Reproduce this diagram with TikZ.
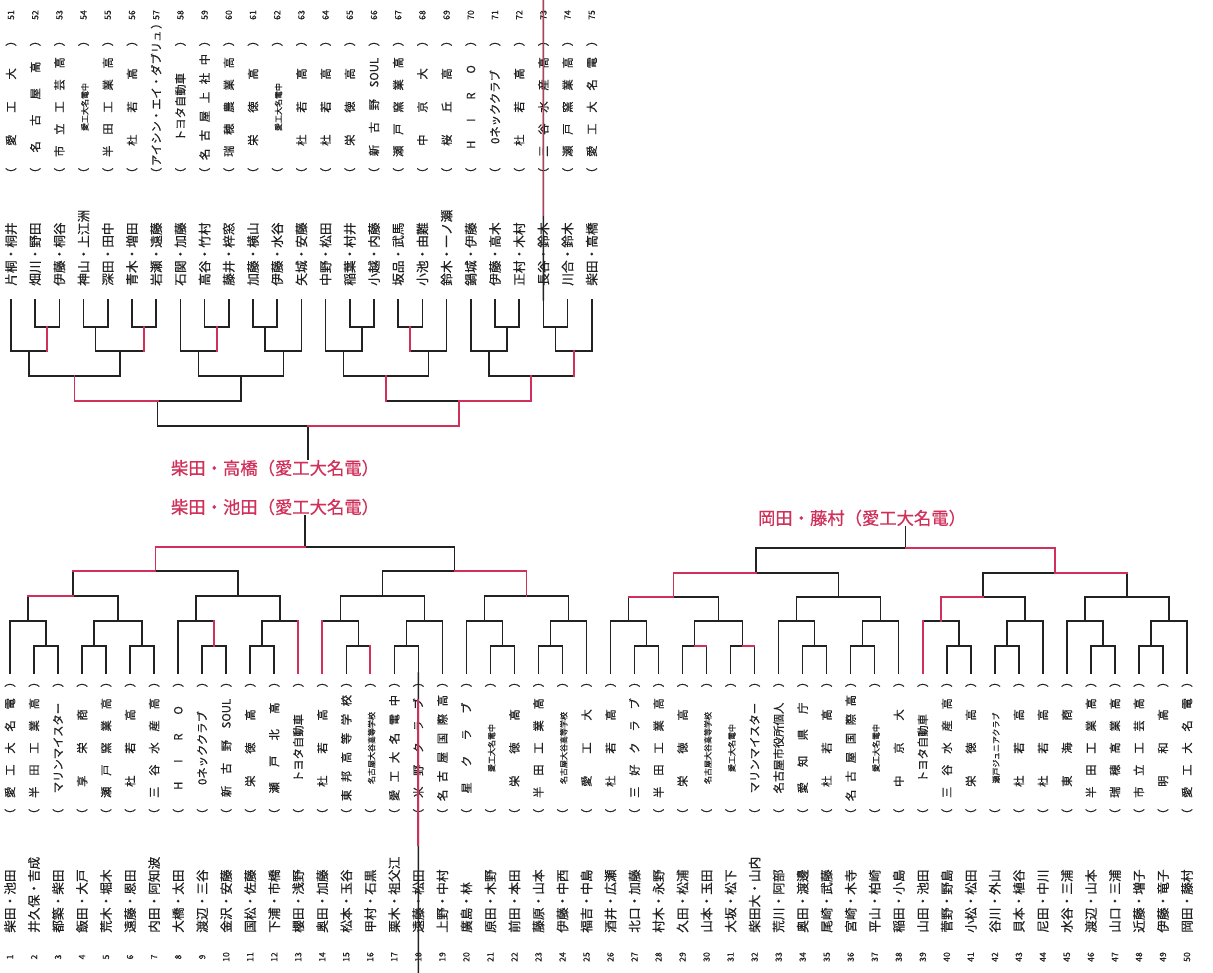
\documentclass[tikz,border=0pt]{standalone}
\usepackage{fontspec}
\setmainfont{Noto Sans CJK JP}[FakeBold=0.5]
\usetikzlibrary{calc}
\definecolor{ink}{HTML}{222222}
\definecolor{rd}{HTML}{D0305A}
\tikzset{
  ln/.style={draw=ink,line width=1.1pt,line cap=rect},
  rl/.style={draw=rd,line width=1.3pt,line cap=rect},
  num/.style={rotate=90,inner sep=0pt,text=ink,font=\fontsize{6.5}{7}\selectfont},
  nm/.style={rotate=90,anchor=west,inner sep=0pt,text=ink,font=\fontsize{9.5}{10}\selectfont},
  sc/.style={rotate=90,inner sep=0pt,text=ink,font=\fontsize{8.5}{9}\selectfont},
  lab/.style={inner sep=0pt,text=rd,font=\fontsize{13}{14}\selectfont},
}
\newcommand\sch[1]{\makebox[108pt][s]{（ #1 ）}}
\newcommand\sm[1]{{\fontsize{6}{7}\selectfont #1}}
\newcommand\mt[4]{%
  \path let \p1=(#2), \p2=(#3), \p3=(0,#4) in coordinate (#1) at ({(\x1+\x2)/2},\y3);
  \draw[ln] (#2) |- (#1) -| (#3);
}
\newcommand\rv[2]{\draw[rl] (#1) -- (#1 |- #2);}
\newcommand\rh[2]{\draw[rl] (#1 |- #2) -- (#2);}
\begin{document}
\begin{tikzpicture}[x=0.75pt,y=-0.75pt]
\fill[white] (0,0) rectangle (1213,973);
\useasboundingbox (0,0) rectangle (1213,973);

% ---------- bottom block 1-50 ----------
\foreach \i/\p/\s in {
 1/柴田・池田/愛 工 大 名 電,
 2/井久保・吉成/半 田 工 業 高,
 3/都築・柴田/マリンマイスター,
 4/飯田・大戸/享 栄 商,
 5/荒木・堀木/瀬 戸 窯 業 高,
 6/遠藤・恩田/杜 若 高,
 7/内田・阿知波/三 谷 水 産 高,
 8/大橋・太田/H I R O,
 9/渡辺・三谷/0ネッククラブ,
 10/金沢・安藤/新 古 野 SOUL,
 11/国松・佐藤/栄 徳 高,
 12/下浦・市橋/瀬 戸 北 高,
 13/櫻田・浅野/トヨタ自動車,
 14/奥田・加藤/杜 若 高,
 15/松本・玉谷/東 邦 高 等 学 校,
 16/甲村・石黒/\sm{名古屋大谷高等学校},
 17/栗木・祖父江/愛 工 大 名 電 中,
 18/遠藤・松田/米 野 ク ラ ブ,
 19/上野・中村/名 古 屋 国 際 高,
 20/廣島・林/星 ク ラ ブ,
 21/原田・木野/\sm{愛工大名電中},
 22/前田・本田/栄 徳 高,
 23/藤原・山本/半 田 工 業 高,
 24/伊藤・中西/\sm{名古屋大谷高等学校},
 25/福吉・中島/愛 工 大,
 26/酒井・広瀬/杜 若 高,
 27/北口・加藤/三 好 ク ラ ブ,
 28/村木・永野/半 田 工 業 高,
 29/久田・松浦/栄 徳 高,
 30/山本・玉田/\sm{名古屋大谷高等学校},
 31/大坂・松下/\sm{愛工大名電中},
 32/柴田大・山内/マリンマイスター,
 33/荒川・阿部/名古屋市役所個人,
 34/奥田・渡邊/愛 知 県 庁,
 35/尾崎・武藤/杜 若 高,
 36/宮崎・木寺/名 古 屋 国 際 高,
 37/平山・柏崎/\sm{愛工大名電中},
 38/稲田・小島/中 京 大,
 39/山田・池田/トヨタ自動車,
 40/菅野・野島/三 谷 水 産 高,
 41/小松・松田/栄 徳 高,
 42/谷川・外山/\sm{瀬戸ジュニアクラブ},
 43/貝本・植谷/杜 若 高,
 44/尼田・中川/杜 若 高,
 45/水谷・三浦/東 海 商,
 46/渡辺・山本/半 田 工 業 高,
 47/山口・三浦/瑞 穂 高 業 高,
 48/近藤・増子/市 立 工 芸 高,
 49/伊藤・竜子/明 和 高,
 50/岡田・藤村/愛 工 大 名 電}{
  \pgfmathsetmacro\xx{10+24.02*(\i-1)}
  \node[num] (kb\i) at (\xx,957) {\i};
  \node[nm] (mb\i) at (\xx,933) {\p};
  \node[sc] (sb\i) at (\xx,748) {\sch{\s}};
  \coordinate (b\i) at (\xx,673);
}

% ---------- top block 51-75 ----------
\foreach \i/\p/\s in {
 51/片桐・桐井/愛 工 大,
 52/畑川・野田/名 古 屋 高,
 53/伊藤・桐谷/市 立 工 芸 高,
 54/神山・上江洲/\sm{愛工大名電中},
 55/深田・田中/半 田 工 業 高,
 56/青木・増田/杜 若 高,
 57/岩瀬・遠藤/アイシン・エイ・ダブリュ,
 58/石関・加藤/トヨタ自動車,
 59/高谷・竹村/名 古 屋 上 社 中,
 60/藤井・梓窓/瑞 穂 農 業 高,
 61/加藤・横山/栄 徳 高,
 62/伊藤・水谷/\sm{愛工大名電中},
 63/矢城・安藤/杜 若 高,
 64/中野・松田/杜 若 高,
 65/稲葉・村井/栄 徳 高,
 66/小越・内藤/新 古 野 SOUL,
 67/坂品・武馬/瀬 戸 窯 業 高,
 68/小池・由難/中 京 大,
 69/鈴木・一ノ瀬/桜 丘 高,
 70/鍋城・伊藤/H I R O,
 71/伊藤・高木/0ネッククラブ,
 72/正村・木村/杜 若 高,
 73/長谷・鈴木/三 谷 水 産 高,
 74/川合・鈴木/瀬 戸 窯 業 高,
 75/柴田・高橋/愛 工 大 名 電}{
  \pgfmathsetmacro\xx{11+24.2*(\i-51)}
  \node[num] (kt\i) at (\xx,15) {\i};
  \node[sc] (st\i) at (\xx,107) {\sch{\s}};
  \node[nm] (mt\i) at (\xx,286) {\p};
  \coordinate (t\i) at (\xx,300);
}

% ---------- bottom bracket ----------
\foreach \a/\b in {2/3,4/5,6/7,9/10,11/12,15/16,17/18,21/22,23/24,27/28,29/30,31/32,34/35,36/37,40/41,42/43,46/47,48/49}{
  \mt{p\a}{b\a}{b\b}{646}
}
\mt{a1}{b1}{p2}{621}
\mt{a2}{p4}{p6}{621}
\mt{a3}{b8}{p9}{621}
\mt{a4}{p11}{b13}{621}
\mt{a5}{b14}{p15}{621}
\mt{a6}{p17}{b19}{621}
\mt{a7}{b20}{p21}{621}
\mt{a8}{p23}{b25}{621}
\mt{a9}{b26}{p27}{621}
\mt{a10}{p29}{p31}{621}
\mt{a11}{b33}{p34}{621}
\mt{a12}{p36}{b38}{621}
\mt{a13}{b39}{p40}{621}
\mt{a14}{p42}{b44}{621}
\mt{a15}{b45}{p46}{621}
\mt{a16}{p48}{b50}{621}
\mt{c1}{a1}{a2}{596}
\mt{c2}{a3}{a4}{596}
\mt{c3}{a5}{a6}{596}
\mt{c4}{a7}{a8}{596}
\mt{c5}{a9}{a10}{597}
\mt{c6}{a11}{a12}{597}
\mt{c7}{a13}{a14}{597}
\mt{c8}{a15}{a16}{597}
\mt{d1}{c1}{c2}{571}
\mt{d2}{c3}{c4}{571}
\mt{d3}{c5}{c6}{573}
\mt{d4}{c7}{c8}{573}
\mt{rL}{d1}{d2}{547}
\mt{rR}{d3}{d4}{548}

% ---------- top bracket ----------
\foreach \a/\b in {52/53,54/55,56/57,59/60,61/62,65/66,67/68,71/72,73/74}{
  \mt{q\a}{t\a}{t\b}{327}
}
\mt{e1}{t51}{q52}{351}
\mt{e2}{q54}{q56}{351}
\mt{e3}{t58}{q59}{351}
\mt{e4}{q61}{t63}{351}
\mt{e5}{t64}{q65}{351}
\mt{e6}{q67}{t69}{351}
\mt{e7}{t70}{q71}{351}
\mt{e8}{q73}{t75}{351}
\mt{f1}{e1}{e2}{376}
\mt{f2}{e3}{e4}{376}
\mt{f3}{e5}{e6}{376}
\mt{f4}{e7}{e8}{376}
\mt{g1}{f1}{f2}{401}
\mt{g2}{f3}{f4}{401}
\mt{rT}{g1}{g2}{426}

% ---------- labels and stems ----------
\node[lab] (labT) at (275,468) {柴田・高橋（愛工大名電）};
\node[lab] (labL) at (275,507) {柴田・池田（愛工大名電）};
\node[lab] (labR) at (862,518) {岡田・藤村（愛工大名電）};
\draw[ln] (rT) -- (rT |- labT.north);
\draw[ln] (rL) -- (rL |- labL.south);
\draw[ln] (rR) -- (rR |- labR.south);

% ---------- long lines through columns 18 and 73 ----------
\coordinate (z18) at (418.3,973);
\coordinate (r18a) at (418.3,700);
\coordinate (r18b) at (418.3,845);
\draw[ln] (b18) -- (z18);
\draw[rl] (r18a) -- (r18b);
\coordinate (z73) at (543.4,0);
\coordinate (r73) at (543.4,215);
\draw[ln] (t73) -- (z73);
\draw[rl] (z73) -- (r73);

% ---------- red winner marks ----------
% top
\rv{q52}{e1} \rv{q56}{e2} \rv{q59}{e3} \rv{q67}{e6}
\rv{f1}{g1} \rh{f1}{g1}
\rv{g2}{rT} \rh{g2}{rT}
\rv{f4}{g2} \rh{f4}{g2} \rv{f3}{g2}
\rv{e8}{f4}
% bottom left
\rh{d1}{rL} \rv{d1}{rL}
\rh{c1}{d1} \rh{a1}{c1}
\rv{p9}{a3} \rv{b13}{a4} \rv{b14}{a5} \rv{b16}{p15}
\rh{c4}{d2} \rv{c4}{d2}
% bottom right
\rh{d4}{rR} \rv{d4}{rR}
\rh{c8}{d4}
\rh{c5}{d3} \rv{c5}{d3} \rh{a9}{c5}
\rv{b39}{a13} \rh{a13}{c7} \rv{a13}{c7}
\rh{b30}{p29} \rh{b32}{p31}
\end{tikzpicture}
\end{document}
